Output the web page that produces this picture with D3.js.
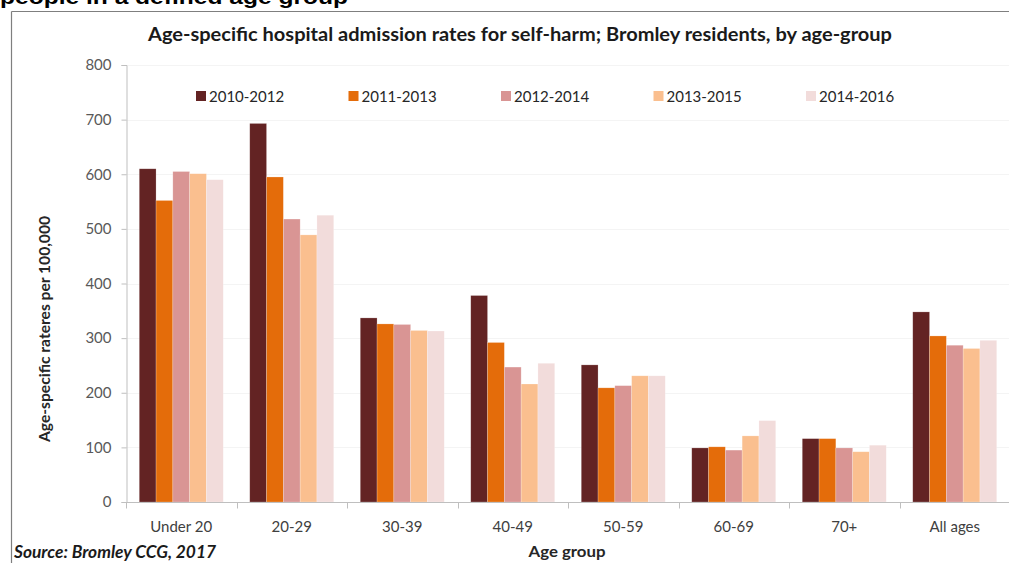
<!DOCTYPE html>
<html>
<head>
<meta charset="utf-8">
<script src="https://cdn.jsdelivr.net/npm/d3@7"></script>
<style>
  html, body { margin: 0; padding: 0; background: #fff; }
  svg { display: block; }
</style>
</head>
<body>
<svg id="chart" width="1009" height="563"></svg>
<script>
// Age-specific admission rates for self-harm, per 100,000
const categories = ["Under 20", "20-29", "30-39", "40-49", "50-59", "60-69", "70+", "All ages"];
const periods = ["2010-2012", "2011-2013", "2012-2014", "2013-2015", "2014-2016"];
const rates2010_2012 = [610, 693, 337, 378, 251, 99, 116, 348];
const rates2011_2013 = [552, 595, 326, 292, 209, 101, 116, 304];
const rates2012_2014 = [605, 518, 325, 247, 213, 95, 99, 287];
const rates2013_2015 = [601, 489, 314, 216, 231, 121, 92, 281];
const rates2014_2016 = [590, 525, 313, 254, 231, 149, 104, 296];
const yTicks = [0, 100, 200, 300, 400, 500, 600, 700, 800];

const seriesValues = [rates2010_2012, rates2011_2013, rates2012_2014, rates2013_2015, rates2014_2016];
const colors = ["#632323", "#E46C0A", "#D99594", "#FABF8F", "#F2DCDB"];

const svg = d3.select("#chart");
const font = "Lato, 'Open Sans', sans-serif";

// Heading above the chart frame (runs past the top edge)
svg.append("text")
  .attr("x", 0).attr("y", 4)
  .attr("font-family", "'Liberation Sans', Arial, sans-serif")
  .attr("font-weight", "bold")
  .attr("font-size", 20)
  .attr("textLength", 348).attr("lengthAdjust", "spacingAndGlyphs")
  .attr("fill", "#000")
  .text("people in a defined age group");

// Chart frame
svg.append("line").attr("x1", 11.5).attr("x2", 1009).attr("y1", 11.5).attr("y2", 11.5)
  .attr("stroke", "#7f7f7f").attr("stroke-width", 1.2);
svg.append("line").attr("x1", 11.5).attr("x2", 11.5).attr("y1", 11.5).attr("y2", 563)
  .attr("stroke", "#7f7f7f").attr("stroke-width", 1.2);

// Scales
const plotLeft = 126, plotRight = 1010, plotTop = 65, plotBottom = 502;
const y = d3.scaleLinear().domain([0, 800]).range([plotBottom, plotTop]);
const x0 = d3.scaleBand().domain(categories).range([plotLeft, plotRight]).padding(0);
const inset = x0.bandwidth() * 0.12;
const x1 = d3.scaleBand().domain(periods).range([inset, x0.bandwidth() - inset]).padding(0);

// Gridlines
svg.append("g")
  .selectAll("line")
  .data(yTicks.filter(d => d > 0))
  .join("line")
  .attr("x1", plotLeft).attr("x2", plotRight)
  .attr("y1", d => Math.round(y(d)) + 0.5).attr("y2", d => Math.round(y(d)) + 0.5)
  .attr("stroke", "#f4f4f4").attr("stroke-width", 1);

// Y axis
const yAxis = svg.append("g")
  .attr("transform", `translate(${plotLeft + 0.5},0)`)
  .call(d3.axisLeft(y).tickValues(yTicks).tickSize(5).tickPadding(10));
yAxis.select(".domain").attr("stroke", "#bfbfbf");
yAxis.selectAll(".tick line").attr("stroke", "#bfbfbf");
yAxis.selectAll(".tick text")
  .attr("font-family", font).attr("font-size", 15).attr("fill", "#595959");

// Bars
const groups = svg.append("g")
  .selectAll("g")
  .data(categories)
  .join("g")
  .attr("transform", d => `translate(${x0(d)},0)`);

groups.selectAll("rect")
  .data((c, i) => periods.map((p, s) => ({ period: p, value: seriesValues[s][i], s })))
  .join("rect")
  .attr("x", d => x1(d.period))
  .attr("width", x1.bandwidth())
  .attr("y", d => y(d.value))
  .attr("height", d => y(0) - y(d.value))
  .attr("fill", d => colors[d.s])
  .attr("stroke", "rgba(255,255,255,0.35)")
  .attr("stroke-width", 0.6);

// X axis with ticks at category boundaries
const xAxisG = svg.append("g").attr("transform", `translate(0,${plotBottom + 0.5})`);
xAxisG.append("line").attr("x1", plotLeft).attr("x2", plotRight)
  .attr("stroke", "#bfbfbf").attr("stroke-width", 1.2);
xAxisG.selectAll("line.tick")
  .data(categories.map(c => x0(c)))
  .join("line").attr("class", "tick")
  .attr("x1", d => Math.round(d) + 0.5).attr("x2", d => Math.round(d) + 0.5)
  .attr("y1", 0).attr("y2", 6)
  .attr("stroke", "#bfbfbf");
xAxisG.selectAll("text")
  .data(categories)
  .join("text")
  .attr("x", d => x0(d) + x0.bandwidth() / 2)
  .attr("y", 29)
  .attr("text-anchor", "middle")
  .attr("font-family", font).attr("font-size", 15).attr("fill", "#404040")
  .text(d => d);

// Title
svg.append("text")
  .attr("x", 520).attr("y", 41)
  .attr("text-anchor", "middle")
  .attr("font-family", font).attr("font-weight", "bold").attr("font-size", 18)
  .attr("textLength", 744).attr("lengthAdjust", "spacingAndGlyphs")
  .attr("fill", "#1a1a1a")
  .text("Age-specific hospital admission rates for self-harm; Bromley residents, by age-group");

// Legend
const legend = svg.append("g")
  .selectAll("g")
  .data(periods)
  .join("g")
  .attr("transform", (d, i) => `translate(${196 + i * 152.5},96)`);
legend.append("rect")
  .attr("x", 0).attr("y", -5).attr("width", 10).attr("height", 10)
  .attr("fill", (d, i) => colors[i]);
legend.append("text")
  .attr("x", 13).attr("y", 5.5)
  .attr("font-family", font).attr("font-size", 15).attr("fill", "#262626")
  .text(d => d);

// Axis titles
svg.append("text")
  .attr("transform", "translate(50,329) rotate(-90)")
  .attr("text-anchor", "middle")
  .attr("font-family", font).attr("font-weight", "bold").attr("font-size", 15.5)
  .attr("textLength", 226).attr("lengthAdjust", "spacingAndGlyphs")
  .attr("fill", "#262626")
  .text("Age-specific rateres per 100,000");

svg.append("text")
  .attr("x", 567).attr("y", 557)
  .attr("text-anchor", "middle")
  .attr("font-family", font).attr("font-weight", "bold").attr("font-size", 16)
  .attr("textLength", 77).attr("lengthAdjust", "spacingAndGlyphs")
  .attr("fill", "#262626")
  .text("Age group");

// Source note
svg.append("text")
  .attr("x", 14).attr("y", 558)
  .attr("font-family", font).attr("font-weight", "bold").attr("font-style", "italic")
  .attr("font-size", 16.5)
  .attr("textLength", 202).attr("lengthAdjust", "spacingAndGlyphs")
  .attr("fill", "#1a1a1a")
  .text("Source: Bromley CCG, 2017");
</script>
</body>
</html>
